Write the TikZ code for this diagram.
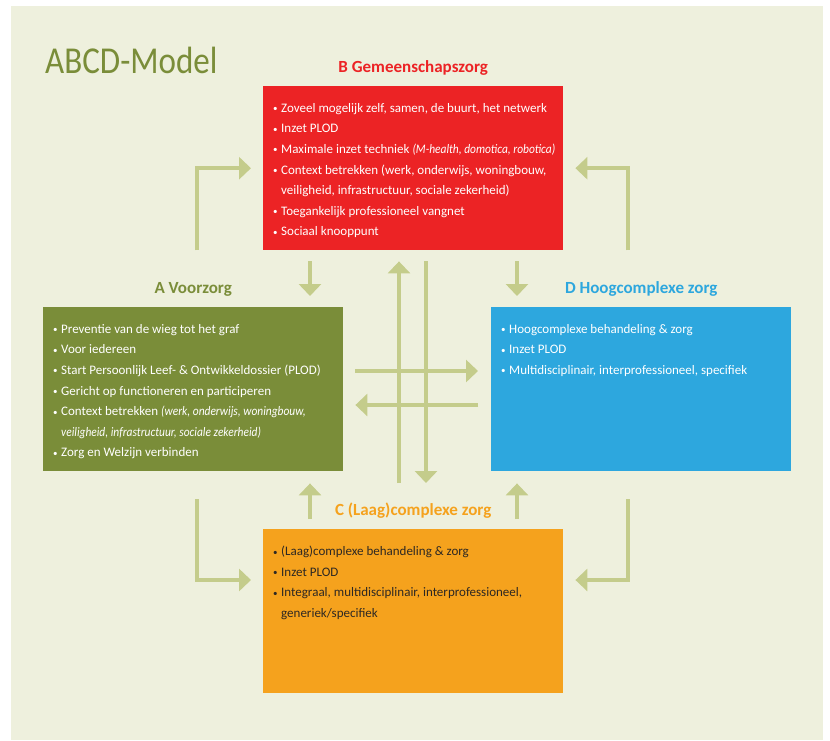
\documentclass[tikz,border=0pt]{standalone}
\usepackage{fontspec}
\setmainfont{Carlito}[ItalicFeatures={FakeStretch=0.88}]
\usetikzlibrary{positioning,arrows.meta}
\definecolor{bgcream}{RGB}{238,240,221}
\definecolor{olive}{RGB}{122,141,57}
\definecolor{zorgred}{RGB}{236,35,37}
\definecolor{zorgblue}{RGB}{45,167,222}
\definecolor{zorgorange}{RGB}{245,162,29}
\definecolor{arrowgreen}{RGB}{196,204,139}
\definecolor{darktext}{RGB}{45,40,35}
\newcommand{\bul}{\par\hangindent=8pt\hangafter=1\noindent\makebox[8pt][l]{\raisebox{0.5pt}{\fontsize{9}{9}\selectfont\textbullet}}}
\newcommand{\boxtext}[1]{\parbox[t][164pt][t]{300pt}{\fontsize{13}{20.6}\selectfont\raggedright\leftskip=10pt\vspace*{17pt}#1}}
\tikzset{
    box/.style={anchor=north west, inner sep=0pt},
    lbl/.style={font=\fontsize{17}{17}\selectfont\bfseries, inner sep=0pt},
    flow/.style={arrowgreen, line width=4pt, -{Triangle[length=12pt,width=22pt]}}
}
\begin{document}
\begin{tikzpicture}[x=1pt,y=-1pt]
    \fill[white] (0,0) rectangle (830,740);
    \fill[bgcream] (11,6) rectangle (823,740);
    \node[anchor=base west, text=olive, inner sep=0pt, font=\fontsize{38}{38}\selectfont] (title) at (45,73) {\scalebox{0.87}[1]{ABCD-Model}};
    \node[box, fill=zorgred, text=white] (B) at (263,86) {\boxtext{%
        \bul Zoveel mogelijk zelf, samen, de buurt, het netwerk
        \bul Inzet PLOD
        \bul Maximale inzet techniek \textit{(M-health, domotica, robotica)}
        \bul Context betrekken (werk, onderwijs, woningbouw,\newline veiligheid, infrastructuur, sociale zekerheid)
        \bul Toegankelijk professioneel vangnet
        \bul Sociaal knooppunt}};
    \node[box, fill=olive, text=white] (A) at (43,307) {\boxtext{%
        \bul Preventie van de wieg tot het graf
        \bul Voor iedereen
        \bul Start Persoonlijk Leef- \& Ontwikkeldossier (PLOD)
        \bul Gericht op functioneren en participeren
        \bul Context betrekken \textit{(werk, onderwijs, woningbouw,\newline veiligheid, infrastructuur, sociale zekerheid)}
        \bul Zorg en Welzijn verbinden}};
    \node[box, fill=zorgblue, text=white] (D) at (491,307) {\boxtext{%
        \bul Hoogcomplexe behandeling \& zorg
        \bul Inzet PLOD
        \bul Multidisciplinair, interprofessioneel, specifiek}};
    \node[box, fill=zorgorange, text=darktext] (C) at (263,529) {\boxtext{%
        \bul (Laag)complexe behandeling \& zorg
        \bul Inzet PLOD
        \bul Integraal, multidisciplinair, interprofessioneel,\newline generiek/specifiek}};
    \node[lbl, text=zorgred, above=10pt of B] (Blbl) {B Gemeenschapszorg};
    \node[lbl, text=olive, above=10pt of A] (Albl) {A Voorzorg};
    \node[lbl, text=zorgblue, above=10pt of D] (Dlbl) {D Hoogcomplexe zorg};
    \node[lbl, text=zorgorange, above=10pt of C] (Clbl) {C (Laag)complexe zorg};
    \draw[flow] ([xshift=-66pt]B.south west) |- ([xshift=-12pt]B.west);
    \draw[flow] ([xshift=65pt]B.south east) |- ([xshift=12pt]B.east);
    \draw[flow] ([shift={(-66,-30)}]C.north west) |- ([shift={(-12,51)}]C.north west);
    \draw[flow] ([shift={(65,-30)}]C.north east) |- ([shift={(12,51)}]C.north east);
    \draw[flow] ([shift={(47,11)}]B.south west) -- ([shift={(267,-11)}]A.north west);
    \draw[flow] ([shift={(254,11)}]B.south west) -- ([shift={(26,-11)}]D.north west);
    \draw[flow] ([shift={(47,-10)}]C.north west) -- ([shift={(267,12)}]A.south west);
    \draw[flow] ([shift={(254,-10)}]C.north west) -- ([shift={(26,12)}]D.south west);
    \draw[flow] ([shift={(136,-46)}]C.north west) -- ([shift={(136,11)}]B.south west);
    \draw[flow] ([shift={(163,11)}]B.south west) -- ([shift={(163,-46)}]C.north west);
    \draw[flow] ([shift={(12,64)}]A.north east) -- ([shift={(-13,64)}]D.north west);
    \draw[flow] ([shift={(-13,98)}]D.north west) -- ([shift={(12,98)}]A.north east);
\end{tikzpicture}
\end{document}
